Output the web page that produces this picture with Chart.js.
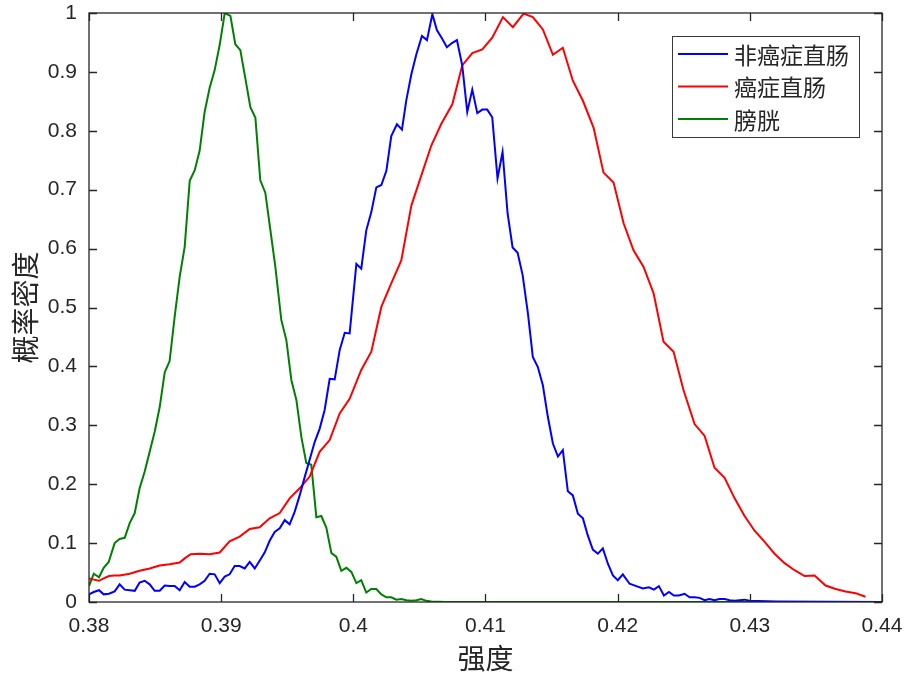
<!DOCTYPE html>
<html>
<head>
<meta charset="utf-8">
<script src="https://cdn.jsdelivr.net/npm/chart.js@4/dist/chart.umd.min.js"></script>
<style>
  html, body { margin: 0; padding: 0; background: #fff; }
  #wrap { width: 906px; height: 679px; }
</style>
</head>
<body>
<div id="wrap"><canvas id="c" width="906" height="679"></canvas></div>
<script>
// series labels
const seriesNames = ["非癌症直肠", "癌症直肠", "膀胱"];

// 非癌症直肠 (blue)
const normalX = [0.3800, 0.38036, 0.38076, 0.38111, 0.38151, 0.38194, 0.38232, 0.38270, 0.38308, 0.38346,
  0.38383, 0.38421, 0.38459, 0.38497, 0.38535, 0.38573, 0.38610, 0.38648, 0.38686, 0.38724,
  0.38762, 0.38800, 0.38837, 0.38875, 0.38913, 0.38951, 0.38989, 0.39027, 0.39064, 0.39102,
  0.39140, 0.39178, 0.39216, 0.39254, 0.39291, 0.39329, 0.39367, 0.39405, 0.39443, 0.39481,
  0.39518, 0.39556, 0.39594, 0.39632, 0.39670, 0.39708, 0.39745, 0.39783, 0.39821, 0.39859,
  0.39897, 0.39935, 0.39972, 0.40023, 0.40060, 0.40098, 0.40136, 0.40174, 0.40212, 0.40250,
  0.40287, 0.40330, 0.40368, 0.40401, 0.40439, 0.40477, 0.40519, 0.40557, 0.40598, 0.40632,
  0.40670, 0.40708, 0.40746, 0.40784, 0.40824, 0.40862, 0.40900, 0.40938, 0.40976, 0.41013,
  0.41051, 0.41091, 0.41129, 0.41167, 0.41205, 0.41243, 0.41281, 0.41321, 0.41358, 0.41396,
  0.41434, 0.41472, 0.41510, 0.41548, 0.41585, 0.41623, 0.41661, 0.41699, 0.41737, 0.41774,
  0.41812, 0.41850, 0.41888, 0.41926, 0.41964, 0.42001, 0.42039, 0.42090, 0.42141, 0.42191,
  0.42236, 0.42274, 0.42312, 0.42350, 0.42388, 0.42425, 0.42463, 0.42506, 0.42544, 0.42582,
  0.42620, 0.42658, 0.42695, 0.42733, 0.42771, 0.42809, 0.42847, 0.42885, 0.42922, 0.42960,
  0.42998, 0.4320, 0.4400];
const normalY = [0.013, 0.017, 0.020, 0.013, 0.014, 0.018, 0.030, 0.021, 0.020, 0.019,
  0.033, 0.036, 0.030, 0.019, 0.019, 0.028, 0.027, 0.027, 0.020, 0.034,
  0.026, 0.026, 0.030, 0.036, 0.048, 0.047, 0.032, 0.043, 0.047, 0.061,
  0.061, 0.057, 0.068, 0.057, 0.070, 0.084, 0.104, 0.119, 0.125, 0.139,
  0.132, 0.153, 0.181, 0.212, 0.242, 0.272, 0.294, 0.326, 0.379, 0.378,
  0.428, 0.457, 0.456, 0.574, 0.566, 0.631, 0.662, 0.704, 0.708, 0.732,
  0.791, 0.811, 0.802, 0.852, 0.896, 0.930, 0.961, 0.954, 0.998, 0.971,
  0.957, 0.942, 0.949, 0.954, 0.911, 0.832, 0.870, 0.830, 0.836, 0.836,
  0.823, 0.719, 0.764, 0.660, 0.602, 0.593, 0.555, 0.490, 0.416, 0.399,
  0.368, 0.314, 0.269, 0.247, 0.258, 0.188, 0.181, 0.150, 0.142, 0.113,
  0.089, 0.082, 0.091, 0.065, 0.045, 0.037, 0.047, 0.031, 0.027, 0.023,
  0.025, 0.021, 0.027, 0.011, 0.017, 0.011, 0.011, 0.014, 0.008, 0.008,
  0.007, 0.003, 0.005, 0.003, 0.005, 0.005, 0.003, 0.002, 0.003, 0.004,
  0.002, 0.001, 0.000];

// 癌症直肠 (red)
const cancerX = [0.3800, 0.38036, 0.38076, 0.38111, 0.38151, 0.38194, 0.38232, 0.38308, 0.38383, 0.38459,
  0.38535, 0.38610, 0.38686, 0.38724, 0.38769, 0.38837, 0.38913, 0.38989, 0.39064, 0.39140,
  0.39216, 0.39291, 0.39367, 0.39443, 0.39518, 0.39594, 0.39670, 0.39745, 0.39821, 0.39897,
  0.39972, 0.40060, 0.40136, 0.40212, 0.40287, 0.40363, 0.40439, 0.40514, 0.40590, 0.40666,
  0.40749, 0.40824, 0.40900, 0.40976, 0.41051, 0.41132, 0.41207, 0.41288, 0.41358, 0.41434,
  0.41510, 0.41585, 0.41661, 0.41737, 0.41818, 0.41893, 0.41969, 0.42045, 0.42120, 0.42196,
  0.42272, 0.42347, 0.42423, 0.42498, 0.42582, 0.42658, 0.42733, 0.42809, 0.42885, 0.42960,
  0.43036, 0.43112, 0.43187, 0.43263, 0.43338, 0.43414, 0.43490, 0.43573, 0.43649, 0.43724,
  0.43800, 0.43875];
const cancerY = [0.040, 0.038, 0.036, 0.040, 0.044, 0.045, 0.045, 0.048, 0.053, 0.057,
  0.062, 0.064, 0.067, 0.074, 0.081, 0.082, 0.081, 0.084, 0.103, 0.111,
  0.124, 0.127, 0.142, 0.151, 0.176, 0.193, 0.213, 0.255, 0.275, 0.320,
  0.345, 0.394, 0.425, 0.501, 0.541, 0.580, 0.673, 0.724, 0.775, 0.812,
  0.845, 0.911, 0.932, 0.938, 0.958, 0.993, 0.976, 0.999, 0.993, 0.972,
  0.929, 0.941, 0.885, 0.851, 0.805, 0.729, 0.712, 0.643, 0.597, 0.569,
  0.524, 0.442, 0.425, 0.360, 0.302, 0.282, 0.228, 0.211, 0.176, 0.146,
  0.121, 0.102, 0.082, 0.066, 0.054, 0.044, 0.045, 0.028, 0.022, 0.018,
  0.015, 0.009];

// 膀胱 (green)
const bladderX = [0.3800, 0.38036, 0.38076, 0.38111, 0.38149, 0.38194, 0.38232, 0.38270, 0.38308, 0.38346,
  0.38383, 0.38421, 0.38459, 0.38497, 0.38535, 0.38573, 0.38610, 0.38648, 0.38686, 0.38724,
  0.38762, 0.38800, 0.38837, 0.38875, 0.38913, 0.38951, 0.38989, 0.39027, 0.39070, 0.39107,
  0.39145, 0.39183, 0.39221, 0.39259, 0.39296, 0.39334, 0.39372, 0.39410, 0.39455, 0.39493,
  0.39531, 0.39569, 0.39607, 0.39644, 0.39682, 0.39720, 0.39758, 0.39796, 0.39834, 0.39871,
  0.39909, 0.39947, 0.39985, 0.40023, 0.40060, 0.40098, 0.40136, 0.40174, 0.40212, 0.40250,
  0.40287, 0.40325, 0.40363, 0.40401, 0.40439, 0.40477, 0.40514, 0.40552, 0.40590, 0.4070,
  0.4100, 0.4400];
const bladderY = [0.027, 0.048, 0.042, 0.058, 0.068, 0.100, 0.107, 0.109, 0.134, 0.151,
  0.193, 0.221, 0.255, 0.289, 0.331, 0.390, 0.409, 0.484, 0.552, 0.603,
  0.715, 0.733, 0.766, 0.832, 0.873, 0.903, 0.946, 1.000, 0.995, 0.947,
  0.937, 0.889, 0.840, 0.822, 0.716, 0.695, 0.632, 0.569, 0.479, 0.445,
  0.377, 0.343, 0.280, 0.236, 0.233, 0.144, 0.146, 0.126, 0.083, 0.077,
  0.053, 0.058, 0.051, 0.032, 0.037, 0.016, 0.022, 0.022, 0.013, 0.008,
  0.008, 0.004, 0.005, 0.003, 0.002, 0.003, 0.005, 0.002, 0.001, 0.000,
  0.000, 0.000];

// tick labels
const xTicks = [0.38, 0.39, 0.40, 0.41, 0.42, 0.43, 0.44];
const yTicks = [0, 0.1, 0.2, 0.3, 0.4, 0.5, 0.6, 0.7, 0.8, 0.9, 1];

const AXIS_COLOR = "#262626";
const TICK_FONT = { family: "'Liberation Sans', Arial, sans-serif", size: 21 };
const CJK_FAMILY = "'Noto Sans CJK SC', 'Noto Sans', sans-serif";

function toPoints(xs, ys) {
  return xs.map((x, i) => ({ x: x, y: ys[i] }));
}

function lineSet(label, xs, ys, color) {
  return {
    label: label,
    data: toPoints(xs, ys),
    borderColor: color,
    backgroundColor: color,
    borderWidth: 2,
    pointRadius: 0,
    tension: 0,
    fill: false,
  };
}

// MATLAB-like labels: 0.4 not 0.40, 1 not 1.0
function plainLabel(v) {
  return String(Number(v.toFixed(2)));
}

// drop the extra room Chart.js keeps for overhanging tick labels
function noScalePadding(s) {
  s.paddingTop = 0;
  s.paddingBottom = 0;
  s.paddingLeft = 0;
  s.paddingRight = 0;
}

// box around the plot with inward tick marks on all four sides
const boxAxes = {
  id: "boxAxes",
  afterDatasetsDraw(chart) {
    const { ctx, chartArea: a, scales } = chart;
    const len = 8;
    ctx.save();
    ctx.strokeStyle = AXIS_COLOR;
    ctx.lineWidth = 1.3;
    ctx.strokeRect(a.left, a.top, a.right - a.left, a.bottom - a.top);
    ctx.beginPath();
    xTicks.forEach((v) => {
      const px = Math.round(scales.x.getPixelForValue(v)) + 0.5;
      ctx.moveTo(px, a.bottom); ctx.lineTo(px, a.bottom - len);
      ctx.moveTo(px, a.top); ctx.lineTo(px, a.top + len);
    });
    yTicks.forEach((v) => {
      const py = Math.round(scales.y.getPixelForValue(v)) + 0.5;
      ctx.moveTo(a.left, py); ctx.lineTo(a.left + len, py);
      ctx.moveTo(a.right, py); ctx.lineTo(a.right - len, py);
    });
    ctx.stroke();
    ctx.restore();
  },
};

// legend box in the upper right corner, MATLAB style
const boxLegend = {
  id: "boxLegend",
  afterDraw(chart) {
    const { ctx } = chart;
    const x0 = 672, y0 = 36, w = 187, h = 101;
    ctx.save();
    ctx.fillStyle = "#fff";
    ctx.fillRect(x0, y0, w, h);
    ctx.strokeStyle = "#3a3a3a";
    ctx.lineWidth = 1;
    ctx.strokeRect(x0 + 0.5, y0 + 0.5, w, h);
    ctx.font = "23px " + CJK_FAMILY;
    ctx.textBaseline = "middle";
    chart.data.datasets.forEach((ds, i) => {
      const y = y0 + 18 + i * 32.5;
      ctx.strokeStyle = ds.borderColor;
      ctx.lineWidth = 2;
      ctx.beginPath();
      ctx.moveTo(x0 + 6, y);
      ctx.lineTo(x0 + 56, y);
      ctx.stroke();
      ctx.fillStyle = AXIS_COLOR;
      ctx.fillText(ds.label, x0 + 62, y + 1);
    });
    ctx.restore();
  },
};

new Chart(document.getElementById("c"), {
  type: "line",
  data: {
    datasets: [
      lineSet(seriesNames[0], normalX, normalY, "#0000ff"),
      lineSet(seriesNames[1], cancerX, cancerY, "#ff0000"),
      lineSet(seriesNames[2], bladderX, bladderY, "#008000"),
    ],
  },
  options: {
    responsive: false,
    animation: false,
    layout: { padding: { top: 13, right: 24, bottom: 0, left: 0 } },
    plugins: {
      legend: { display: false },
      tooltip: { enabled: false },
    },
    scales: {
      x: {
        type: "linear",
        min: 0.38,
        max: 0.44,
        afterBuildTicks: (s) => { s.ticks = xTicks.map((v) => ({ value: v })); },
        afterFit: (s) => { s.height = 77; noScalePadding(s); },
        grid: { display: false, drawTicks: false },
        border: { display: false },
        ticks: { color: AXIS_COLOR, font: TICK_FONT, padding: 12, maxRotation: 0, callback: plainLabel },
        title: {
          display: true,
          text: "强度",
          color: AXIS_COLOR,
          font: { family: CJK_FAMILY, size: 28 },
          padding: { top: 0, bottom: 4 },
        },
      },
      y: {
        type: "linear",
        min: 0,
        max: 1,
        afterBuildTicks: (s) => { s.ticks = yTicks.map((v) => ({ value: v })); },
        afterFit: (s) => { s.width = 89; noScalePadding(s); },
        grid: { display: false, drawTicks: false },
        border: { display: false },
        ticks: { color: AXIS_COLOR, font: TICK_FONT, padding: 12, callback: plainLabel },
        title: {
          display: true,
          text: "概率密度",
          color: AXIS_COLOR,
          font: { family: CJK_FAMILY, size: 28 },
          padding: { top: 9, bottom: 0 },
        },
      },
    },
  },
  plugins: [boxAxes, boxLegend],
});
</script>
</body>
</html>
